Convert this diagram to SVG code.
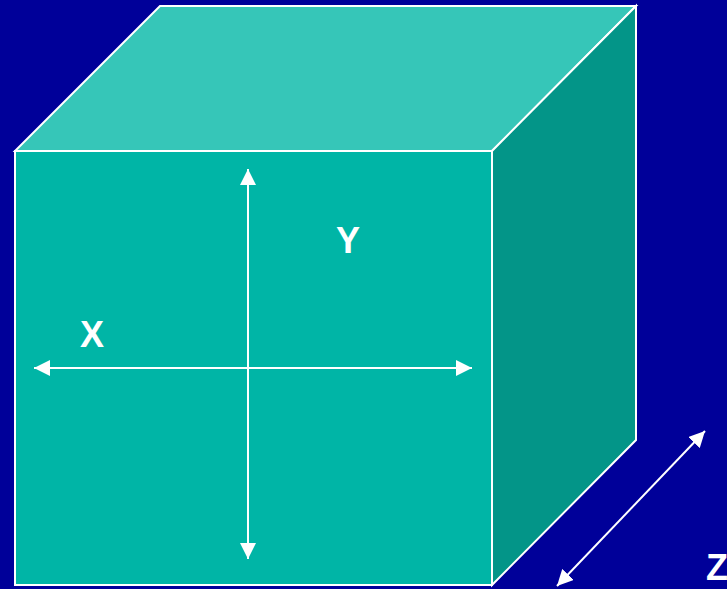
<svg xmlns="http://www.w3.org/2000/svg" width="727" height="589" viewBox="0 0 727 589">
<style>
.face{stroke:#FFFFFF;stroke-width:2;stroke-linejoin:miter}
.axis{stroke:#FFFFFF;stroke-width:2;fill:none}
.lbl{font-family:"Liberation Sans",Arial,sans-serif;font-weight:bold;font-size:36px;fill:#FFFFFF}
</style>
<defs>
<marker id="ah" viewBox="0 0 16 16" refX="16" refY="8" markerWidth="16" markerHeight="16" markerUnits="userSpaceOnUse" orient="auto-start-reverse">
<path d="M0,0 L16,8 L0,16 Z" fill="#FFFFFF"/>
</marker>
</defs>
<rect width="727" height="589" fill="#000099"/>
<g id="cube">
<polygon id="top" class="face" fill="#36C6B8" points="160,6 636,6 492,151 15,151"/>
<polygon id="right" class="face" fill="#039588" points="492,151 636,6 636,440 492,585"/>
<rect id="front" class="face" fill="#00B5A6" x="15" y="151" width="477" height="434"/>
</g>
<g id="connectors">
<line class="axis" x1="248" y1="368" x2="248" y2="169" marker-end="url(#ah)"/>
<line class="axis" x1="248" y1="368" x2="248" y2="559" marker-end="url(#ah)"/>
<line class="axis" x1="250" y1="368" x2="34" y2="368" marker-end="url(#ah)"/>
<line class="axis" x1="246" y1="368" x2="472" y2="368" marker-end="url(#ah)"/>
<line class="axis" x1="557" y1="586" x2="705" y2="431" marker-start="url(#ah)" marker-end="url(#ah)"/>
</g>
<g id="labels">
<text class="lbl" x="92" y="347" text-anchor="middle">X</text>
<text class="lbl" x="348" y="253" text-anchor="middle">Y</text>
<text class="lbl" x="706" y="580">Z</text>
</g>
</svg>
